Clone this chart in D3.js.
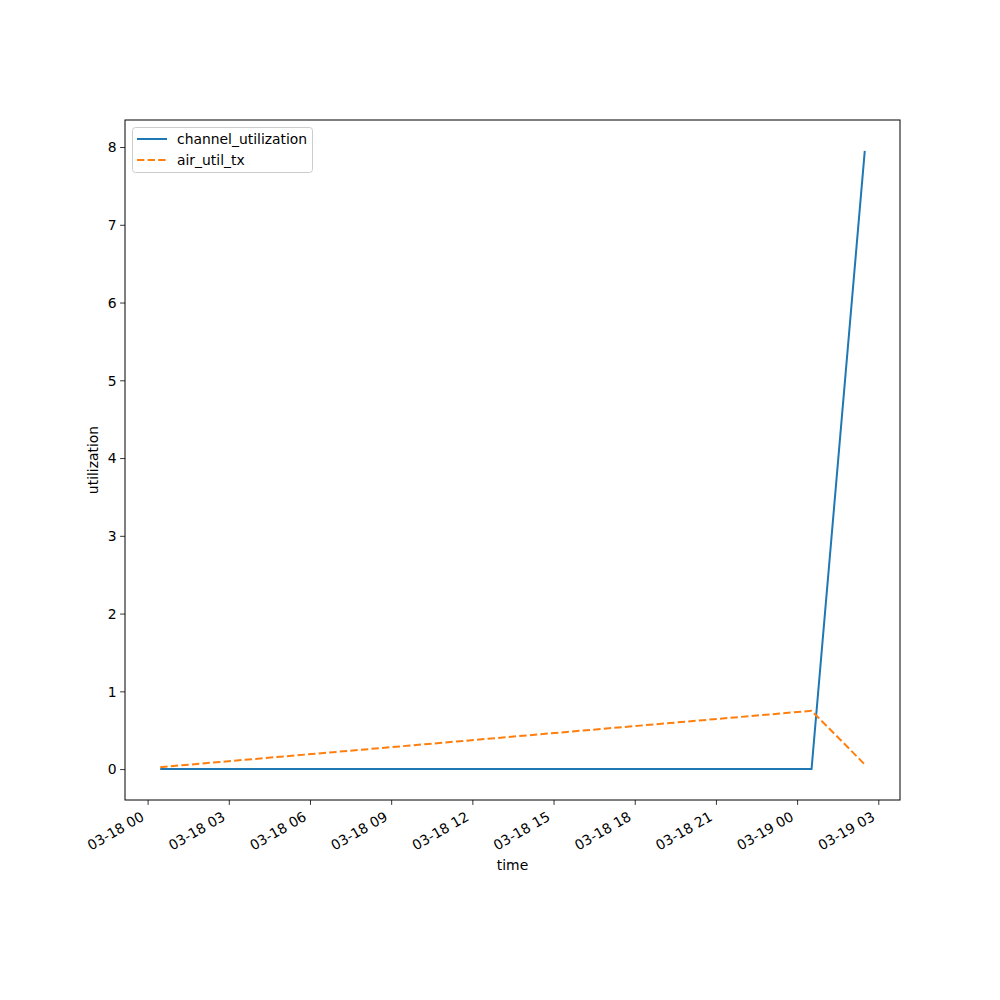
<!DOCTYPE html>
<html><head><meta charset="utf-8">
<script src="https://cdn.jsdelivr.net/npm/d3@7"></script>
<style>body{margin:0;background:#fff}svg{display:block}text{font-family:"DejaVu Sans",sans-serif}</style>
</head><body>
<svg id="c" width="1000" height="1000"></svg>
<script>
const times = ["2024-03-18T00:28:00", "2024-03-19T00:32:00", "2024-03-19T02:30:00"];
const channelUtilization = [0.0, 0.0, 7.95];
const airUtilTx = [0.025, 0.75, 0.06];
const yTicks = [0, 1, 2, 3, 4, 5, 6, 7, 8];
const xTickTimes = ["2024-03-18T00:00:00","2024-03-18T03:00:00","2024-03-18T06:00:00","2024-03-18T09:00:00","2024-03-18T12:00:00","2024-03-18T15:00:00","2024-03-18T18:00:00","2024-03-18T21:00:00","2024-03-19T00:00:00","2024-03-19T03:00:00"];

const parse = d3.timeParse("%Y-%m-%dT%H:%M:%S");
const t = times.map(parse);
const L = 125, R = 900, T = 120, B = 800;
const svg = d3.select("#c");

const tmin = d3.min(t), tmax = d3.max(t);
const span = tmax - tmin;
const x = d3.scaleTime().domain([new Date(+tmin - span*0.05), new Date(+tmax + span*0.05)]).range([L, R]);
const allY = channelUtilization.concat(airUtilTx);
const ymin = d3.min(allY), ymax = d3.max(allY), ys = ymax - ymin;
const y = d3.scaleLinear().domain([ymin - ys*0.05, ymax + ys*0.05]).range([B, T]);

const fs = "13.9px";
// x axis
const xa = svg.append("g").attr("transform", `translate(0,${B})`)
  .call(d3.axisBottom(x).tickValues(xTickTimes.map(parse)).tickFormat(d3.timeFormat("%m-%d %H")).tickSizeOuter(0).tickSize(4.9).tickPadding(3.5));
xa.select(".domain").remove();
xa.selectAll("line").attr("stroke", "#000").attr("stroke-width", 0.8);
xa.selectAll("text").attr("font-size", fs).attr("fill", "#000")
  .attr("text-anchor", "end").attr("dy", null).attr("y", null)
  .attr("transform", "translate(-5,16) rotate(-30)").attr("dominant-baseline", "middle");

// y axis
const ya = svg.append("g").attr("transform", `translate(${L},0)`)
  .call(d3.axisLeft(y).tickValues(yTicks).tickFormat(d3.format("d")).tickSizeOuter(0).tickSize(4.9).tickPadding(3.5));
ya.select(".domain").remove();
ya.selectAll("line").attr("stroke", "#000").attr("stroke-width", 0.8);
ya.selectAll("text").attr("font-size", fs).attr("fill", "#000").attr("dy", "0.35em");

// lines
const clipId = "clip";
svg.append("clipPath").attr("id", clipId).append("rect").attr("x", L).attr("y", T).attr("width", R-L).attr("height", B-T);
const line = d3.line().x((d,i)=>x(t[i])).y(d=>y(d));
svg.append("path").datum(channelUtilization).attr("d", line).attr("fill","none")
  .attr("stroke","#1f77b4").attr("stroke-width",2).attr("clip-path",`url(#${clipId})`);
svg.append("path").datum(airUtilTx).attr("d", line).attr("fill","none")
  .attr("stroke","#ff7f0e").attr("stroke-width",2).attr("stroke-dasharray","7.4,3.2").attr("clip-path",`url(#${clipId})`);

// frame
svg.append("rect").attr("x", L).attr("y", T).attr("width", R-L).attr("height", B-T)
  .attr("fill","none").attr("stroke","#000").attr("stroke-width",1);

// axis labels
svg.append("text").attr("x", (L+R)/2).attr("y", 870).attr("text-anchor","middle").attr("font-size", fs).text("time");
svg.append("text").attr("transform", `translate(98,${(T+B)/2}) rotate(-90)`).attr("text-anchor","middle").attr("font-size", fs).text("utilization");

// legend
const lg = svg.append("g");
lg.append("rect").attr("x",132.5).attr("y",127.5).attr("width",180).attr("height",45).attr("rx",3)
  .attr("fill","#fff").attr("fill-opacity",0.8).attr("stroke","#ccc").attr("stroke-width",1);
const items = [{name:"channel_utilization", color:"#1f77b4", dash:null},{name:"air_util_tx", color:"#ff7f0e", dash:"7.4,3.2"}];
items.forEach((it,i)=>{
  const yy = 139 + i*21;
  lg.append("line").attr("x1",137).attr("x2",167).attr("y1",yy).attr("y2",yy)
    .attr("stroke",it.color).attr("stroke-width",2).attr("stroke-dasharray",it.dash);
  lg.append("text").attr("x",177).attr("y",yy).attr("dy","0.35em").attr("font-size",fs).text(it.name);
});
</script>
</body></html>
